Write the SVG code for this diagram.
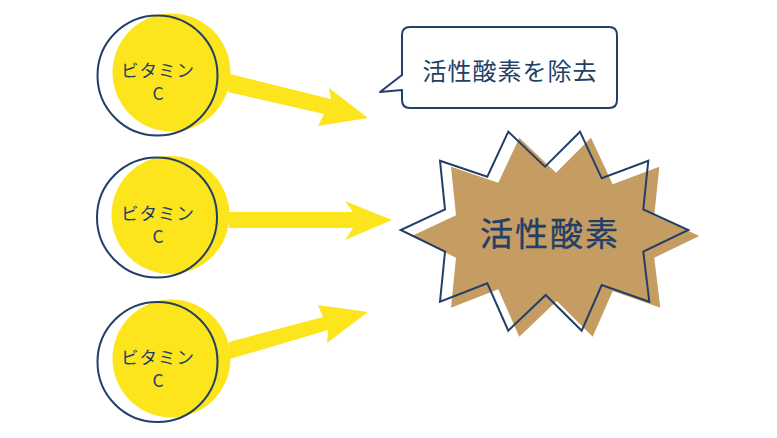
<svg xmlns="http://www.w3.org/2000/svg" width="777" height="438" viewBox="0 0 777 438">
<style>
.sun{fill:#FDE51E}
.ring{fill:none;stroke:#223F68;stroke-width:2}
.vc{font-family:"Noto Sans CJK JP","Noto Sans",sans-serif;font-size:17.5px;fill:#223F68;text-anchor:middle}
.arrow{fill:#FDE51E}
.t{font-family:"Noto Sans CJK JP",sans-serif;fill:#223F68;text-anchor:middle}
</style>
<rect width="777" height="438" fill="#fff"/>
<g id="connectors">
<polygon class="arrow" points="230,74 331,99 329,88 368,118 318,126 324,114 228,92"/>
<polygon class="arrow" points="229,212 353,212 345,201 392,220 345,240 353,228 229,228"/>
<polygon class="arrow" points="229,342 323,317 318,305 368,312 327,343 328,330 230,359"/>
</g>
<g id="vc1">
<circle class="sun" cx="171.5" cy="72.5" r="59"/>
<circle class="ring" cx="157.5" cy="75.5" r="60"/>
<text class="vc" x="158" y="77" letter-spacing="1">ビタミン</text>
<text class="vc" x="158" y="100">C</text>
</g>
<g id="vc2">
<circle class="sun" cx="170.5" cy="215" r="59"/>
<circle class="ring" cx="157" cy="217.5" r="60"/>
<text class="vc" x="158" y="220" letter-spacing="1">ビタミン</text>
<text class="vc" x="158" y="243">C</text>
</g>
<g id="vc3">
<circle class="sun" cx="171.5" cy="358.5" r="59"/>
<circle class="ring" cx="157.5" cy="362" r="60"/>
<text class="vc" x="158" y="364" letter-spacing="1">ビタミン</text>
<text class="vc" x="158" y="387">C</text>
</g>
<g id="bubble">
<path d="M410,27 H609 Q617,27 617,35 V100 Q617,108 609,108 H410 Q402,108 402,100 V90 L380,92 L402,75 V35 Q402,27 410,27 Z" fill="#fff" stroke="#223F68" stroke-width="2" stroke-linejoin="round"/>
<text class="t" x="510" y="80" font-size="24" letter-spacing="1">活性酸素を除去</text>
</g>
<g id="burst">
<polygon transform="translate(11,6)" fill="#C59D62" points="508.3,131.7 545,166.7 580,131.7 601.7,178.3 648.3,160.7 643.3,209.3 688.3,230 643.3,251.7 649.3,301.7 601.7,285 581.7,330.7 545.7,295 508.3,330.7 487.3,283.3 440,301.7 445,251.7 400.7,230 445,209.3 440,160.7 487.3,176.7"/>
<polygon fill="none" stroke="#223F68" stroke-width="2" points="508.3,131.7 545,166.7 580,131.7 601.7,178.3 648.3,160.7 643.3,209.3 688.3,230 643.3,251.7 649.3,301.7 601.7,285 581.7,330.7 545.7,295 508.3,330.7 487.3,283.3 440,301.7 445,251.7 400.7,230 445,209.3 440,160.7 487.3,176.7"/>
<text class="t" x="550" y="246" font-size="33" stroke="#223F68" stroke-width="0.35" letter-spacing="2">活性酸素</text>
</g>
</svg>
